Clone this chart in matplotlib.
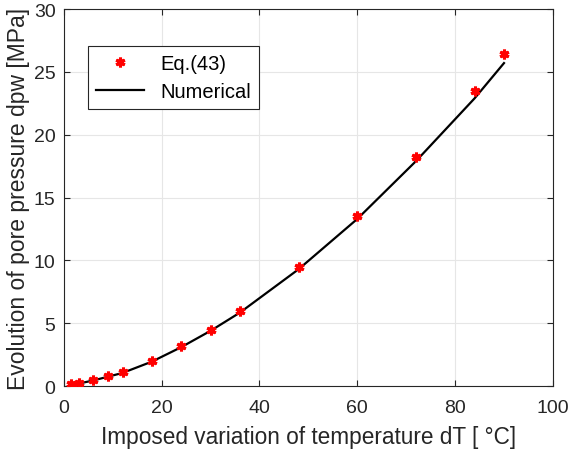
import matplotlib
matplotlib.use("Agg")
import matplotlib.pyplot as plt

plt.rcParams['font.family'] = ['Liberation Sans', 'DejaVu Sans']

# imposed temperature variation (degC)
dT = [1.5, 3, 6, 9, 12, 18, 24, 30, 36, 48, 60, 72, 84, 90]
# analytical solution Eq.(43)
dpw_eq = [0.15, 0.25, 0.5, 0.8, 1.15, 2.0, 3.2, 4.5, 5.95, 9.45, 13.5, 18.2, 23.5, 26.4]
# numerical result
dpw_num = [0.1, 0.2, 0.45, 0.75, 1.05, 1.95, 3.1, 4.4, 5.85, 9.3, 13.3, 17.9, 22.9, 25.7]

axcol = '#262626'

fig = plt.figure(figsize=(5.7, 4.56), dpi=100)
ax = fig.add_axes([0.112, 0.151, 0.858, 0.827])

ax.plot(dT, dpw_eq, color='red', linestyle='none', marker=(6, 2, 0),
        markersize=7, markeredgewidth=2.2, label='Eq.(43)', zorder=3)
ax.plot(dT, dpw_num, 'k-', linewidth=1.6, label='Numerical', zorder=2)

ax.set_xlim(0, 100)
ax.set_ylim(0, 30)
ax.set_xticks(range(0, 101, 20))
ax.set_yticks(range(0, 31, 5))
ax.grid(True, color='#e6e6e6', linewidth=0.8)
ax.set_axisbelow(True)
ax.tick_params(direction='in', labelsize=14, length=4, top=True, right=True,
               color=axcol, labelcolor=axcol)
ax.tick_params(axis='x', pad=9)
ax.tick_params(axis='y', pad=6)
for s in ax.spines.values():
    s.set_linewidth(0.8)
    s.set_color(axcol)

ax.set_xlabel('Imposed variation of temperature dT [ °C]', fontsize=16.3,
              labelpad=7, color=axcol)
ax.set_ylabel('Evolution of pore pressure dpw [MPa]', fontsize=16.5,
              labelpad=3, color=axcol)

leg = ax.legend(loc='upper left', bbox_to_anchor=(0.049, 0.902), borderaxespad=0,
                fontsize=14.5, fancybox=False, edgecolor=axcol, framealpha=1,
                handlelength=2.4, handletextpad=0.8, borderpad=0.4, labelspacing=0.45)
leg.get_frame().set_linewidth(0.8)

fig.savefig('out.png', dpi=100)
